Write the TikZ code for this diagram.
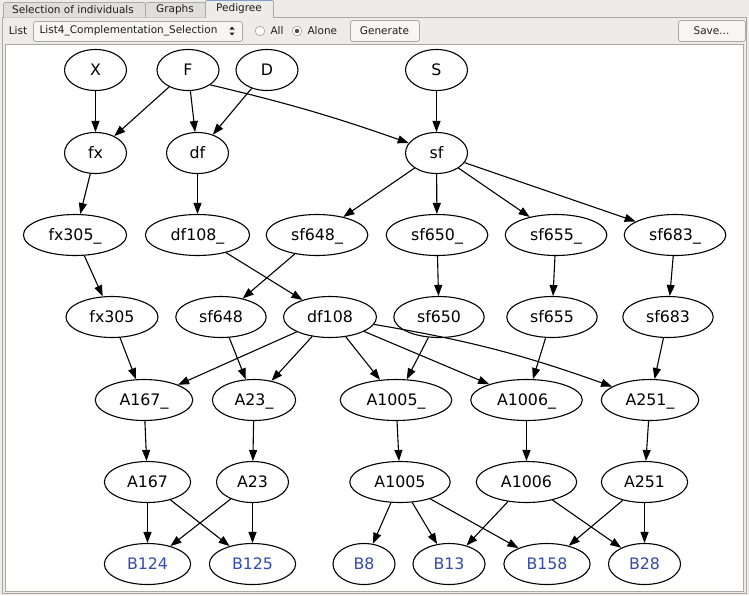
\documentclass[tikz,border=0pt]{standalone}
\usepackage{fontspec}
\setmainfont{DejaVu Sans}
\usepackage{tikz}
\usetikzlibrary{shapes.geometric,arrows.meta,positioning}
\definecolor{winbg}{RGB}{237,236,233}
\definecolor{tabbg}{RGB}{224,222,218}
\definecolor{framegray}{RGB}{172,169,164}
\definecolor{leafblue}{RGB}{52,74,178}
\definecolor{tabblue}{RGB}{130,160,205}
\definecolor{guitext}{RGB}{30,30,30}

\begin{document}
\begin{tikzpicture}[x=1pt,y=-1pt,
    indiv/.style={draw, ellipse, line width=1.1pt, minimum width=62pt, minimum height=41pt,
      inner xsep=10pt, inner ysep=2pt, text height=14pt, text depth=2.4pt,
      font=\fontsize{15.8}{18}\selectfont},
    leaf/.style={indiv, text=leafblue},
    link/.style={-{Triangle[length=11pt,width=8pt]}, line width=1.1pt},
    gui/.style={font=\fontsize{10.5}{12}\selectfont, text=guitext},
    button/.style={draw=framegray, fill=white!55!winbg, rounded corners=2.5pt, line width=0.8pt}]
  % Window, tabs and frame
  \fill[winbg] (0,0) rectangle (749,595);
  \draw[framegray, line width=0.8pt] (2.5,17.5) rectangle (746.5,593.5);
  \draw[framegray, fill=tabbg, rounded corners=2pt, line width=0.8pt] (3.5,17.5) |- (145.5,2.5) -- (145.5,17.5);
  \draw[framegray, fill=tabbg, rounded corners=2pt, line width=0.8pt] (145.5,17.5) |- (205.5,2.5) -- (205.5,17.5);
  \fill[winbg] (205.5,0.5) rectangle (273.5,18);
  \draw[framegray, line width=0.8pt] (205.5,17.5) -- (205.5,0.5) (273.5,0.5) -- (273.5,17.5);
  \draw[tabblue, line width=1.2pt] (206,0.8) -- (273,0.8);
  \node[gui] (tabsel) at (73,10) {Selection of individuals};
  \node[gui] (tabgraph) at (175,10) {Graphs};
  \node[gui] (tabped) at (239,8.5) {Pedigree};
  % Toolbar
  \node[gui] (listlbl) at (18,31) {List};
  \draw[button] (33.5,21.5) rectangle (242.5,41.5);
  \node[gui, anchor=west] (listbox) at (36,31) {List4\_Complementation\_Selection};
  \fill[guitext] (229.5,29.5) -- (234.5,29.5) -- (232,26.5) -- cycle;
  \fill[guitext] (229.5,32.5) -- (234.5,32.5) -- (232,35.5) -- cycle;
  \draw[framegray, fill=white, line width=0.7pt] (260,31) circle (4.8);
  \node[gui, anchor=west] (optall) at (267,31) {All};
  \draw[framegray, fill=white, line width=0.7pt] (297,31) circle (4.8);
  \fill[guitext!80] (297,31) circle (2.2);
  \node[gui, anchor=west] (optalone) at (304,31) {Alone};
  \draw[button] (350.5,20.5) rectangle (419.5,41.5);
  \node[gui] (generate) at (384.5,30.5) {Generate};
  \draw[button] (678.5,20.5) rectangle (745.5,41.5);
  \node[gui] (save) at (711.5,30.5) {Save...};
  % Drawing area
  \draw[framegray, fill=white, line width=0.8pt] (5.5,44.5) rectangle (743.5,591.5);
  % Founders
  \node[indiv] (X) at (95.5,70) {X};
  \node[indiv] (F) at (188,70) {F};
  \node[indiv] (D) at (267,70) {D};
  \node[indiv] (S) at (436.5,70) {S};
  % Crosses
  \node[indiv] (fx) at (95.5,153) {fx};
  \node[indiv] (df) at (197.5,153) {df};
  \node[indiv] (sf) at (436.5,153) {sf};
  \node[indiv] (fx305u) at (75,235) {fx305\_};
  \node[indiv] (df108u) at (197.5,235) {df108\_};
  \node[indiv] (sf648u) at (317,235) {sf648\_};
  \node[indiv] (sf650u) at (437,235) {sf650\_};
  \node[indiv] (sf655u) at (556,235) {sf655\_};
  \node[indiv] (sf683u) at (675,235) {sf683\_};
  \node[indiv] (fx305) at (112,317) {fx305};
  \node[indiv] (sf648) at (221,317) {sf648};
  \node[indiv] (df108) at (330,317) {df108};
  \node[indiv] (sf650) at (439,317) {sf650};
  \node[indiv] (sf655) at (552,317) {sf655};
  \node[indiv] (sf683) at (668,317) {sf683};
  \node[indiv] (A167u) at (144,400) {A167\_};
  \node[indiv] (A23u) at (254,400) {A23\_};
  \node[indiv] (A1005u) at (396,400) {A1005\_};
  \node[indiv] (A1006u) at (526.5,400) {A1006\_};
  \node[indiv] (A251u) at (650,400) {A251\_};
  \node[indiv] (A167) at (147.5,482) {A167};
  \node[indiv] (A23) at (252.5,482) {A23};
  \node[indiv] (A1005) at (400,482) {A1005};
  \node[indiv] (A1006) at (526.5,482) {A1006};
  \node[indiv] (A251) at (644.5,482) {A251};
  % Selected individuals
  \node[leaf] (B124) at (147.5,564) {B124};
  \node[leaf] (B125) at (252.5,564) {B125};
  \node[leaf] (B8) at (364,564) {B8};
  \node[leaf] (B13) at (449,564) {B13};
  \node[leaf] (B158) at (547,564) {B158};
  \node[leaf] (B28) at (644.5,564) {B28};
  % Parent links
  \draw[link] (X) -- (fx);
  \draw[link] (F) edge (fx) edge (df);
  \draw[link] (F.south east) to[bend left=3] (sf);
  \draw[link] (D) -- (df);
  \draw[link] (S) -- (sf);
  \draw[link] (fx) -- (fx305u);
  \draw[link] (df) -- (df108u);
  \draw[link] (sf) edge (sf648u) edge (sf650u) edge (sf655u) edge (sf683u);
  \draw[link] (fx305u) -- (fx305);
  \draw[link] (df108u) -- (df108);
  \draw[link] (sf648u) -- (sf648);
  \draw[link] (sf650u) -- (sf650);
  \draw[link] (sf655u) -- (sf655);
  \draw[link] (sf683u) -- (sf683);
  \draw[link] (fx305) -- (A167u);
  \draw[link] (sf648) -- (A23u);
  \draw[link] (sf650) -- (A1005u);
  \draw[link] (sf655) -- (A1006u);
  \draw[link] (sf683) -- (A251u);
  \draw[link] (df108) edge (A167u) edge (A23u) edge (A1005u) edge (A1006u) edge[bend left=5] (A251u);
  \draw[link] (A167u) -- (A167);
  \draw[link] (A23u) -- (A23);
  \draw[link] (A1005u) -- (A1005);
  \draw[link] (A1006u) -- (A1006);
  \draw[link] (A251u) -- (A251);
  \draw[link] (A167) edge (B124) edge (B125);
  \draw[link] (A23) edge (B124) edge (B125);
  \draw[link] (A1005) edge (B8) edge (B13) edge (B158);
  \draw[link] (A1006) edge (B13) edge (B28);
  \draw[link] (A251) edge (B158) edge (B28);
\end{tikzpicture}
\end{document}
